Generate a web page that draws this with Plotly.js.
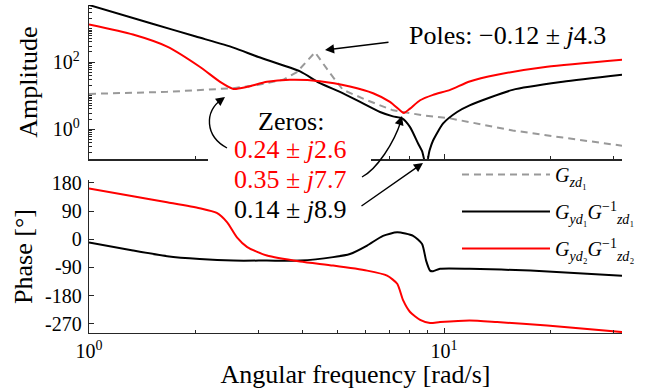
<!DOCTYPE html>
<html><head><meta charset="utf-8">
<script src="https://cdn.plot.ly/plotly-3.0.1.min.js"></script>
<style>html,body{margin:0;padding:0;background:#fff}</style>
</head><body>
<div id="chart" style="width:668px;height:389px"></div>
<script>
// ---- Data ----
// Amplitude of G_zd1 (grey dashed)
const gzdFreq = [1.0, 1.66, 2.55, 3.0, 3.52, 3.85, 4.33, 4.77, 5.19, 6.07, 7.18, 8.73, 10.4, 11.8, 15.6, 21.6, 31.7];
const gzdAmp  = [11.2, 12.9, 16.6, 20.9, 29.5, 50.1, 195, 46.8, 14.8, 7.24, 3.63, 2.57, 2.09, 1.62, 0.91, 0.56, 0.32];

// Amplitude of G_yd1 G_zd1^-1 (black)
const g1AmpFreq = [1.0, 1.5, 2.0, 2.55, 3.0, 3.93, 4.47, 5.09, 5.8, 6.6, 7.18, 7.62, 8.02, 8.45, 8.67, 8.9, 9.1, 9.31, 9.94, 10.88, 11.8, 15.6, 21.6, 31.7];
const g1Amp     = [5012, 1413, 575, 269, 141, 52.5, 23.4, 12.9, 6.46, 3.24, 2.40, 2.09, 1.15, 0.372, 0.219, 0.079, 0.229, 0.457, 1.48, 3.24, 5.13, 14.8, 25.7, 41.7];

// Amplitude of G_yd2 G_zd2^-1 (red)
const g2AmpFreq = [1.0, 1.33, 1.66, 2.05, 2.34, 2.55, 2.79, 3.17, 3.68, 4.47, 5.43, 6.31, 7.04, 7.51, 7.7, 8.02, 8.56, 9.31, 10.4, 11.8, 14.1, 19.5, 31.7];
const g2Amp     = [1318, 661, 288, 72.4, 25.7, 15.8, 18.2, 25.7, 29.5, 26.9, 18.6, 11.7, 6.46, 3.63, 3.02, 4.07, 7.24, 10.5, 14.8, 26.3, 41.7, 72.4, 117];

// Phase of G_yd1 G_zd1^-1 (black), degrees
const g1PhFreq = [1.0, 1.33, 1.66, 2.05, 2.55, 3.17, 3.93, 4.87, 5.43, 6.07, 6.73, 7.38, 8.18, 8.67, 8.9, 9.13, 9.31, 9.74, 11.8, 17.5, 31.7];
const g1Phase  = [-10, -36, -54, -63, -68, -68, -68, -57, -47, -20, 11, 22, 11, -15, -68, -100, -102, -94, -94, -100, -116];

// Phase of G_yd2 G_zd2^-1 (red), degrees
const g2PhFreq = [1.0, 1.33, 1.66, 2.05, 2.29, 2.45, 2.61, 2.79, 3.17, 3.93, 4.87, 6.07, 6.91, 7.38, 7.67, 8.02, 8.56, 9.13, 9.74, 11.8, 14.1, 19.5, 31.7];
const g2Phase  = [162, 137, 118, 99, 84, 54, 6, -25, -52, -71, -84, -100, -116, -142, -195, -232, -257, -267, -264, -259, -264, -275, -296];

// Tick labels
const xTickVals = [1, 10];
const xTickText = ['10<sup>0</sup>', '10<sup>1</sup>'];
const ampTickVals = [1, 100];
const ampTickText = ['10<sup>0</sup>', '10<sup>2</sup>'];
const phTickVals = [-270, -180, -90, 0, 90, 180];
const phTickText = ['-270', '-180', '-90', '0', '90', '180'];

const legendNames = [
  '<i>G</i><sub><i>zd</i>₁</sub>',
  '<i>G</i><sub><i>yd</i>₁</sub><i>G</i><sup>−1</sup><sub><i>zd</i>₁</sub>',
  '<i>G</i><sub><i>yd</i>₂</sub><i>G</i><sup>−1</sup><sub><i>zd</i>₂</sub>'
];

// ---- Layout helpers (pixel -> paper) ----
const ML = 89, MR = 46, MT = 5, MB = 56, W = 668, H = 389;
const PW = W - ML - MR, PH = H - MT - MB;
const px = x => (x - ML) / PW;
const py = y => (H - MB - y) / PH;

const FONT = 'Liberation Serif, Times New Roman, serif';
const AX = '#262626';
const GRAY = '#999999', RED = '#ff0000', BLACK = '#000000';

const xMinor = [2, 3, 4, 5, 6, 7, 8, 9, 20, 30];
const yMinor = [0.2, 0.3, 0.4, 0.5, 0.6, 0.7, 0.8, 0.9, 2, 3, 4, 5, 6, 7, 8, 9, 10, 20, 30, 40, 50, 60, 70, 80, 90, 200, 300, 400, 500, 600, 700, 800, 900, 1000, 2000, 3000, 4000, 5000];

const traces = [
  {x: gzdFreq, y: gzdAmp, xaxis: 'x', yaxis: 'y', name: legendNames[0], legendgroup: 'a', mode: 'lines',
   line: {color: GRAY, width: 2, dash: '7px,5px'}},
  {x: g1AmpFreq, y: g1Amp, xaxis: 'x', yaxis: 'y', name: legendNames[1], legendgroup: 'b', mode: 'lines',
   line: {color: BLACK, width: 2, shape: 'spline', smoothing: 0.6}},
  {x: g2AmpFreq, y: g2Amp, xaxis: 'x', yaxis: 'y', name: legendNames[2], legendgroup: 'c', mode: 'lines',
   line: {color: RED, width: 2, shape: 'spline', smoothing: 0.6}},
  {x: g1PhFreq, y: g1Phase, xaxis: 'x2', yaxis: 'y2', showlegend: false, legendgroup: 'b', mode: 'lines',
   line: {color: BLACK, width: 2, shape: 'spline', smoothing: 0.6}},
  {x: g2PhFreq, y: g2Phase, xaxis: 'x2', yaxis: 'y2', showlegend: false, legendgroup: 'c', mode: 'lines',
   line: {color: RED, width: 2, shape: 'spline', smoothing: 0.6}}
];

const xRange = [0, Math.log10(31.7)];
const commonX = {
  type: 'log', range: xRange, showline: true, linecolor: AX, linewidth: 1.3, mirror: false,
  ticks: 'inside', ticklen: 5, tickcolor: AX, tickwidth: 1, showgrid: false, zeroline: false,
  tickmode: 'array', tickvals: xTickVals, ticktext: xTickText,
  minor: {tickmode: 'array', tickvals: xMinor, ticks: 'inside', ticklen: 3, tickcolor: AX, tickwidth: 1}
};

const layout = {
  width: W, height: H,
  margin: {l: ML, r: MR, t: MT, b: MB},
  paper_bgcolor: '#fff', plot_bgcolor: '#fff',
  font: {family: FONT, size: 20, color: '#000'},
  showlegend: true,
  legend: {x: px(457), y: py(155), xanchor: 'left', yanchor: 'top',
           bgcolor: 'rgba(0,0,0,0)', font: {family: FONT, size: 20, color: '#000'},
           itemwidth: 88, tracegroupgap: 8},
  xaxis: Object.assign({}, commonX, {anchor: 'y', showticklabels: false}),
  xaxis2: Object.assign({}, commonX, {anchor: 'y2',
    title: {text: 'Angular frequency [rad/s]', font: {family: FONT, size: 26}, standoff: 0}}),
  yaxis: {
    domain: [py(159.3), 1], anchor: 'x', type: 'log', range: [-0.9, 3.7],
    showline: true, linecolor: AX, linewidth: 1.3, ticks: 'inside', ticklen: 6, tickcolor: AX,
    showgrid: false, zeroline: false, tickmode: 'array', tickvals: ampTickVals, ticktext: ampTickText,
    ticklabelstandoff: 4,
    minor: {tickmode: 'array', tickvals: yMinor, ticks: 'inside', ticklen: 3, tickcolor: AX},
    title: {text: 'Amplitude', font: {family: FONT, size: 26}, standoff: 7}
  },
  yaxis2: {
    domain: [0, py(180)], anchor: 'x2', range: [-299, 189],
    showline: true, linecolor: AX, linewidth: 1.3, ticks: 'inside', ticklen: 5, tickcolor: AX,
    showgrid: false, zeroline: false, tickmode: 'array', tickvals: phTickVals, ticktext: phTickText,
    ticklabelstandoff: 2,
    title: {text: 'Phase [°]', font: {family: FONT, size: 26}, standoff: 5}
  },
  shapes: [
    // white box of the "Zeros" note covering the top axis
    {type: 'rect', xref: 'paper', yref: 'paper', x0: px(208), x1: px(371), y0: py(165), y1: py(150),
     fillcolor: '#fff', line: {width: 0}, layer: 'above'},
    // curved arrow to 0.24 ± j2.6
    {type: 'path', xref: 'paper', yref: 'paper', layer: 'above',
     path: `M ${px(227)} ${py(148)} C ${px(205)} ${py(136)} ${px(204)} ${py(112)} ${px(222)} ${py(99)}`,
     line: {color: '#000', width: 1.4}},
    // curved arrow to 0.35 ± j7.7
    {type: 'path', xref: 'paper', yref: 'paper', layer: 'above',
     path: `M ${px(362)} ${py(177)} C ${px(377)} ${py(169)} ${px(394)} ${py(143)} ${px(401)} ${py(121)}`,
     line: {color: '#000', width: 1.4}}
  ],
  annotations: [
    {xref: 'paper', yref: 'paper', x: px(507), y: py(36), text: 'Poles: −0.12 ± <i>j</i>4.3',
     showarrow: false, xanchor: 'center', yanchor: 'middle', font: {family: FONT, size: 26, color: '#000'}},
    {xref: 'paper', yref: 'paper', x: px(325), y: py(50), text: '', showarrow: true,
     ax: 65, ay: -8, arrowhead: 2, arrowsize: 1.3, arrowwidth: 1.4, arrowcolor: '#000'},
    {xref: 'paper', yref: 'paper', x: px(291), y: py(121), text: 'Zeros:',
     showarrow: false, xanchor: 'center', yanchor: 'middle', font: {family: FONT, size: 26, color: '#000'}},
    {xref: 'paper', yref: 'paper', x: px(290), y: py(150), text: '0.24 ± <i>j</i>2.6',
     showarrow: false, xanchor: 'center', yanchor: 'middle', font: {family: FONT, size: 26, color: RED}},
    {xref: 'paper', yref: 'paper', x: px(290), y: py(180), text: '0.35 ± <i>j</i>7.7',
     showarrow: false, xanchor: 'center', yanchor: 'middle', font: {family: FONT, size: 26, color: RED}},
    {xref: 'paper', yref: 'paper', x: px(290), y: py(209), text: '0.14 ± <i>j</i>8.9',
     showarrow: false, xanchor: 'center', yanchor: 'middle', font: {family: FONT, size: 26, color: '#000'}},
    // arrowheads at ends of curved arrows
    {xref: 'paper', yref: 'paper', x: px(225), y: py(97), text: '', showarrow: true,
     ax: -8, ay: 6, arrowhead: 2, arrowsize: 1.3, arrowwidth: 1.4, arrowcolor: '#000'},
    {xref: 'paper', yref: 'paper', x: px(402), y: py(116), text: '', showarrow: true,
     ax: -3, ay: 9, arrowhead: 2, arrowsize: 1.3, arrowwidth: 1.4, arrowcolor: '#000'},
    // straight arrow to 0.14 ± j8.9
    {xref: 'paper', yref: 'paper', x: px(423), y: py(163), text: '', showarrow: true,
     ax: -63, ay: 44, arrowhead: 2, arrowsize: 1.3, arrowwidth: 1.4, arrowcolor: '#000'}
  ]
};

Plotly.newPlot('chart', traces, layout, {displayModeBar: false, staticPlot: true});
</script>
</body></html>
